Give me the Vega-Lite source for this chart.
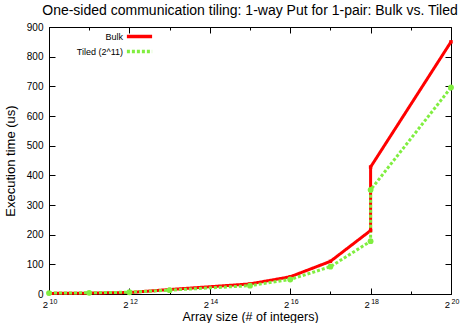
{
  "$schema": "https://vega.github.io/schema/vega-lite/v6.json",
  "width": 402,
  "height": 267,
  "autosize": {"type": "none"},
  "padding": {"left": 49, "top": 27, "right": 10, "bottom": 29},
  "background": "white",
  "title": {"text": "One-sided communication tiling: 1-way Put for 1-pair: Bulk vs. Tiled", "font": "Liberation Sans", "fontSize": 14, "fontWeight": "normal", "anchor": "middle", "offset": 4, "color": "black"},
  "config": {
    "view": {"stroke": "black", "strokeWidth": 1},
    "axis": {"grid": false, "domainColor": "black", "tickColor": "black", "labelColor": "black", "titleColor": "black", "labelFont": "Liberation Sans", "titleFont": "Liberation Sans", "labelFontSize": 10, "titleFontSize": 13, "titleFontWeight": "normal"}
  },
  "data": {"values": [
    {"size": 1024, "time": 2, "series": "Bulk", "ord": 1},
    {"size": 2048, "time": 3, "series": "Bulk", "ord": 2},
    {"size": 4096, "time": 5, "series": "Bulk", "ord": 3},
    {"size": 8192, "time": 15, "series": "Bulk", "ord": 4},
    {"size": 32768, "time": 34, "series": "Bulk", "ord": 5},
    {"size": 65536, "time": 58, "series": "Bulk", "ord": 6},
    {"size": 131072, "time": 110, "series": "Bulk", "ord": 7},
    {"size": 262144, "time": 214, "series": "Bulk", "ord": 8},
    {"size": 262144, "time": 428, "series": "Bulk", "ord": 9},
    {"size": 1048576, "time": 850, "series": "Bulk", "ord": 10},
    {"size": 1024, "time": 3, "series": "Tiled (2^11)", "ord": 1},
    {"size": 2048, "time": 4, "series": "Tiled (2^11)", "ord": 2},
    {"size": 4096, "time": 6, "series": "Tiled (2^11)", "ord": 3},
    {"size": 8192, "time": 13, "series": "Tiled (2^11)", "ord": 4},
    {"size": 32768, "time": 28, "series": "Tiled (2^11)", "ord": 5},
    {"size": 65536, "time": 49, "series": "Tiled (2^11)", "ord": 6},
    {"size": 131072, "time": 92, "series": "Tiled (2^11)", "ord": 7},
    {"size": 262144, "time": 178, "series": "Tiled (2^11)", "ord": 8},
    {"size": 262144, "time": 351, "series": "Tiled (2^11)", "ord": 9},
    {"size": 1048576, "time": 696, "series": "Tiled (2^11)", "ord": 10}
  ]},
  "layer": [
    {
      "mark": {"type": "line", "strokeWidth": 3, "strokeCap": "butt"},
      "encoding": {
        "x": {"field": "size", "type": "quantitative", "scale": {"type": "log", "base": 2, "domain": [1024, 1048576], "nice": false},
          "axis": {"orient": "bottom", "title": "Array size (# of integers)", "titlePadding": -1, "titleFontSize": 12.5,
            "values": [1024, 2048, 4096, 8192, 16384, 32768, 65536, 131072, 262144, 524288, 1048576],
            "labelExpr": "indexof([1024, 4096, 16384, 65536, 262144, 1048576], datum.value) >= 0 ? '2' : ''",
            "tickSize": {"condition": {"test": "indexof([2048, 8192, 32768, 131072, 524288], datum.value) >= 0", "value": -3}, "value": -6},
            "labelPadding": 11, "labelOffset": -4, "labelFontSize": 9.5, "labelFlush": false, "labelOverlap": false}},
        "y": {"field": "time", "type": "quantitative", "scale": {"domain": [0, 900], "nice": false},
          "axis": {"orient": "left", "title": "Execution time (us)", "values": [0, 100, 200, 300, 400, 500, 600, 700, 800, 900], "tickSize": -6, "labelPadding": 12, "titlePadding": 9}},
        "color": {"field": "series", "type": "nominal", "scale": {"domain": ["Bulk", "Tiled (2^11)"], "range": ["#ff0000", "#80ee40"]},
          "legend": {"orient": "none", "legendX": 84, "legendY": 3, "title": null, "symbolType": "M-2.8,0H2.8", "symbolSize": 81, "symbolStrokeWidth": 3.5, "labelAlign": "right", "labelOffset": -23, "labelFont": "Liberation Sans", "labelFontSize": 9, "labelColor": "black", "rowPadding": 0}},
        "strokeDash": {"field": "series", "type": "nominal", "scale": {"domain": ["Bulk", "Tiled (2^11)"], "range": [[1, 0], [3, 2]]},
          "legend": {"orient": "none", "legendX": 84, "legendY": 3, "title": null, "symbolType": "M-2.8,0H2.8", "symbolSize": 81, "symbolStrokeWidth": 3.5, "labelAlign": "right", "labelOffset": -23, "labelFont": "Liberation Sans", "labelFontSize": 9, "labelColor": "black", "rowPadding": 0}},
        "order": {"field": "ord", "type": "quantitative"}
      }
    },
    {
      "transform": [{"filter": "datum.series == 'Bulk'"}],
      "mark": {"type": "square", "filled": true, "opacity": 1, "color": "#ff0000", "size": 12},
      "encoding": {
        "x": {"field": "size", "type": "quantitative", "scale": {"type": "log", "base": 2, "domain": [1024, 1048576], "nice": false},
          "axis": {"orient": "top", "title": null, "labels": false, "domain": false,
            "values": [1024, 2048, 4096, 8192, 16384, 32768, 65536, 131072, 262144, 524288, 1048576],
            "tickSize": {"condition": {"test": "indexof([2048, 8192, 32768, 131072, 524288], datum.value) >= 0", "value": -3}, "value": -6}}},
        "y": {"field": "time", "type": "quantitative", "scale": {"domain": [0, 900], "nice": false},
          "axis": {"orient": "right", "title": null, "labels": false, "domain": false, "values": [0, 100, 200, 300, 400, 500, 600, 700, 800, 900], "tickSize": -6}}
      }
    },
    {
      "transform": [{"filter": "datum.series == 'Tiled (2^11)'"}],
      "mark": {"type": "circle", "opacity": 1, "color": "#80ee40", "size": 34},
      "encoding": {
        "x": {"field": "size", "type": "quantitative", "scale": {"type": "log", "base": 2, "domain": [1024, 1048576], "nice": false},
          "axis": {"orient": "bottom", "title": null, "domain": false, "ticks": false,
            "values": [1024, 4096, 16384, 65536, 262144, 1048576],
            "labelExpr": "datum.value == 1024 ? '10' : datum.value == 4096 ? '12' : datum.value == 16384 ? '14' : datum.value == 65536 ? '16' : datum.value == 262144 ? '18' : '20'",
            "labelFontSize": 7, "labelPadding": 3, "labelOffset": 4, "labelFlush": false, "labelOverlap": false}},
        "y": {"field": "time", "type": "quantitative", "scale": {"domain": [0, 900], "nice": false}, "axis": null}
      }
    }
  ],
  "resolve": {"axis": {"x": "independent", "y": "independent"}}
}
